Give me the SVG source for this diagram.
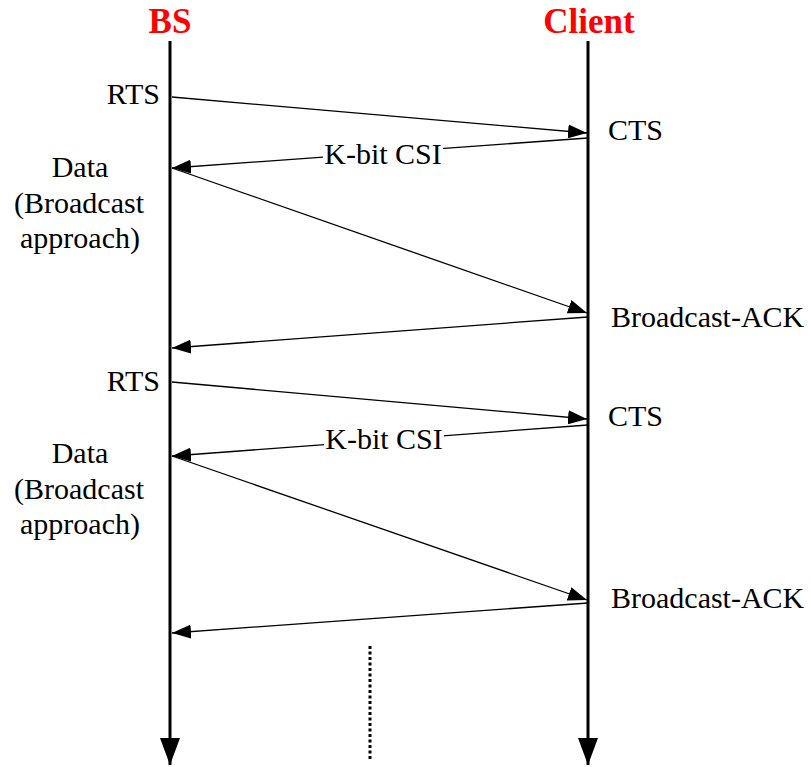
<svg xmlns="http://www.w3.org/2000/svg" width="811" height="767" viewBox="0 0 811 767">
<style>
.t{font-family:"Liberation Serif","Times New Roman",serif;font-size:30px;fill:#000}
.h{font-family:"Liberation Serif","Times New Roman",serif;font-size:35px;font-weight:bold;fill:#f00}
.m{stroke:#000;stroke-width:1.3;fill:none;marker-end:url(#ah)}
.life{stroke:#000;stroke-width:3;fill:none;marker-end:url(#lh)}
</style>
<defs>
<marker id="ah" markerUnits="userSpaceOnUse" markerWidth="20" markerHeight="14" refX="19" refY="7" orient="auto"><path d="M0,0 L19,7 L0,14 Z" fill="#000"/></marker>
<marker id="lh" markerUnits="userSpaceOnUse" markerWidth="28" markerHeight="20" refX="27" refY="10" orient="auto"><path d="M0,0 L27,10 L0,20 Z" fill="#000"/></marker>
</defs>
<g id="bs">
<text class="h" x="170" y="33" text-anchor="middle">BS</text>
<line class="life" x1="170" y1="41" x2="170" y2="765"/>
</g>
<g id="client">
<text class="h" x="589" y="33" text-anchor="middle">Client</text>
<line class="life" x1="588" y1="41" x2="588" y2="765"/>
</g>
<g id="labels">
<text class="t" x="160" y="104" text-anchor="end">RTS</text>
<text class="t" x="608" y="140">CTS</text>
<text class="t" x="80" y="177" text-anchor="middle">Data</text>
<text class="t" x="79" y="213" text-anchor="middle">(Broadcast</text>
<text class="t" x="80" y="248" text-anchor="middle">approach)</text>
<text class="t" x="611" y="327">Broadcast-ACK</text>
<text class="t" x="160" y="391" text-anchor="end">RTS</text>
<text class="t" x="608" y="426">CTS</text>
<text class="t" x="80" y="463" text-anchor="middle">Data</text>
<text class="t" x="79" y="499" text-anchor="middle">(Broadcast</text>
<text class="t" x="80" y="534" text-anchor="middle">approach)</text>
<text class="t" x="611" y="608">Broadcast-ACK</text>
</g>
<g id="connectors">
<line class="m" x1="172" y1="97" x2="587" y2="133"/>
<line class="m" x1="588" y1="138" x2="172" y2="168"/>
<line class="m" x1="172" y1="168" x2="587" y2="313"/>
<line class="m" x1="588" y1="317" x2="172" y2="348"/>
<line class="m" x1="172" y1="382" x2="587" y2="419"/>
<line class="m" x1="588" y1="425" x2="172" y2="456"/>
<line class="m" x1="172" y1="456" x2="587" y2="600"/>
<line class="m" x1="588" y1="603" x2="172" y2="633"/>
<line x1="370" y1="646" x2="370" y2="760" stroke="#000" stroke-width="3" stroke-dasharray="3,2.5"/>
</g>
<g id="csi-labels">
<rect x="323" y="142" width="120" height="26" fill="#fff"/>
<text class="t" x="383" y="164" text-anchor="middle">K-bit CSI</text>
<rect x="324" y="427" width="120" height="26" fill="#fff"/>
<text class="t" x="384" y="449" text-anchor="middle">K-bit CSI</text>
</g>
</svg>
